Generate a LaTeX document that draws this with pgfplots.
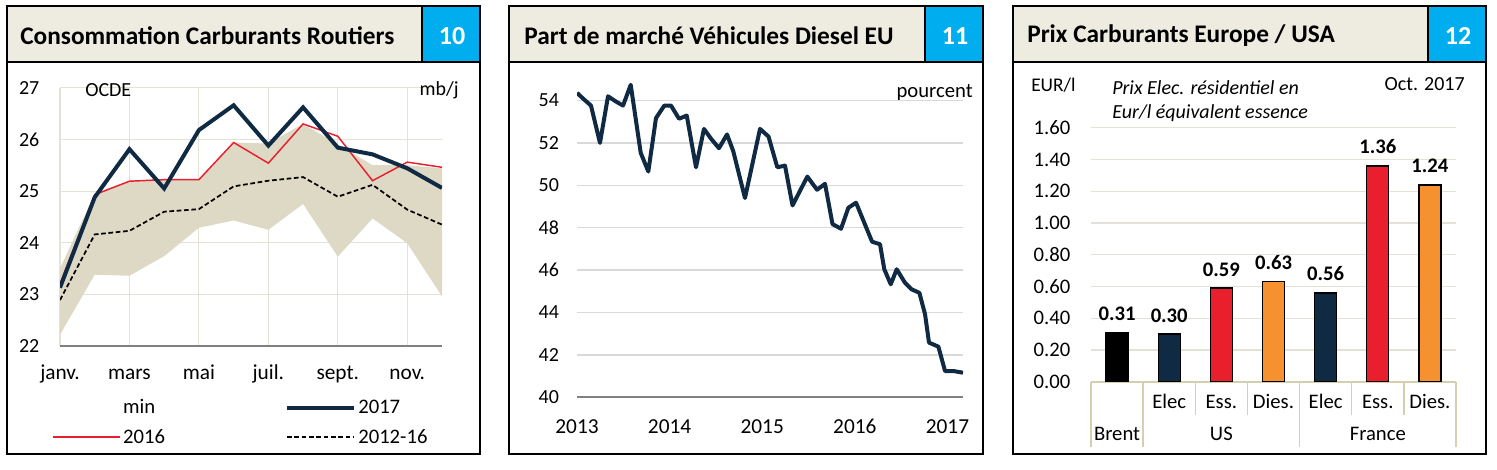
\documentclass[border=0pt]{standalone}
\usepackage{fontspec}
\setmainfont{Carlito}
\usepackage{pgfplots}
\pgfplotsset{compat=1.18}
\usepgfplotslibrary{fillbetween}
\definecolor{navy}{HTML}{102A43}
\definecolor{cred}{HTML}{EA1F2E}
\definecolor{corange}{HTML}{F5912F}
\definecolor{band}{HTML}{DDD9C4}
\definecolor{titlebg}{HTML}{EEECE1}
\definecolor{cblue}{HTML}{00AEEF}
\definecolor{gridA}{HTML}{E4E1D6}
\definecolor{gridB}{HTML}{D9D9D9}
\definecolor{sepc}{HTML}{D5CFB0}
\newcommand{\fs}[1]{\fontsize{#1}{#1}\selectfont}
\begin{document}
\begin{tikzpicture}
% ---------- frames ----------
\begin{scope}[x=0.75pt,y=-0.75pt]
\fill[titlebg] (7,6) rectangle (422,62);
\fill[cblue] (422,6) rectangle (480,62);
\draw[line width=1.5pt] (7,6) rectangle (480,454);
\draw[line width=1.5pt] (7,62) -- (480,62);
\draw[line width=1.2pt] (422,6) -- (422,62);
\node[anchor=west, font=\fs{19pt}\bfseries, inner sep=0pt] at (20,36) {Consommation Carburants Routiers};
\node[font=\fs{19.5pt}\bfseries, text=white, inner sep=0pt] at (452,36) {10};

\fill[titlebg] (509,6) rectangle (925,62);
\fill[cblue] (925,6) rectangle (983,62);
\draw[line width=1.5pt] (509,6) rectangle (983,454);
\draw[line width=1.5pt] (509,62) -- (983,62);
\draw[line width=1.2pt] (925,6) -- (925,62);
\node[anchor=west, font=\fs{19pt}\bfseries, inner sep=0pt] at (524,36) {Part de marché Véhicules Diesel EU};
\node[font=\fs{19.5pt}\bfseries, text=white, inner sep=0pt] at (955,36) {11};

\fill[titlebg] (1013,6) rectangle (1428,62);
\fill[cblue] (1428,6) rectangle (1486,62);
\draw[line width=1.5pt] (1013,6) rectangle (1486,454);
\draw[line width=1.5pt] (1013,62) -- (1486,62);
\draw[line width=1.2pt] (1428,6) -- (1428,62);
\node[anchor=west, font=\fs{19pt}\bfseries, inner sep=0pt] at (1027,36) {Prix Carburants Europe / USA};
\node[font=\fs{19.5pt}\bfseries, text=white, inner sep=0pt] at (1458,36) {12};

% annotations
\node[anchor=west, font=\fs{15pt}, inner sep=0pt] at (85,90) {OCDE};
\node[anchor=east, font=\fs{15pt}, inner sep=0pt] at (459,90) {mb/j};
\node[anchor=east, font=\fs{15.5pt}, inner sep=0pt] at (973,93) {pourcent};
\node[anchor=west, font=\fs{14.5pt}, inner sep=0pt] at (1031,85) {EUR/l};
\node[anchor=west, font=\fs{15pt}\itshape, inner sep=0pt] at (1112,88) {Prix Elec. résidentiel en};
\node[anchor=west, font=\fs{15pt}\itshape, inner sep=0pt] at (1112,113) {Eur/l équivalent essence};
\node[anchor=east, font=\fs{15pt}, inner sep=0pt] at (1465,84) {Oct. 2017};
\end{scope}

% ---------- panel 1 ----------
\begin{axis}[at={(45pt,-259.5pt)}, anchor=south west, scale only axis,
  width=286.5pt, height=193.7pt,
  xmin=0, xmax=11, ymin=22, ymax=27,
  xtick={0,2,4,6,8,10}, xticklabels={janv.,mars,mai,juil.,sept.,nov.},
  ytick={22,23,24,25,26,27},
  xmajorgrids, ymajorgrids, grid style={gridA, line width=0.8pt},
  major tick length=0pt,
  axis x line*=bottom, axis y line*=left,
  x axis line style={-, draw=gray, line width=1.5pt},
  y axis line style={draw=none},
  /pgf/number format/assume math mode=true,
  yticklabel style={font=\fs{15pt}, xshift=-12pt},
  xticklabel style={font=\fs{16pt}, anchor=base, yshift=-25.5pt},
  legend columns=2,
  legend style={draw=none, fill=none, font=\fs{15.5pt},
    at={(axis cs:0,22)}, anchor=north west, xshift=-9pt, yshift=-36pt,
    /tikz/every even column/.append style={column sep=88pt}, row sep=6pt},
  legend image code/.code={\draw[#1] (0pt,0pt) -- (50pt,0pt);},
  legend cell align=left,
]
\addplot[name path=up, draw=none, forget plot] coordinates {
(0,23.5)(1,24.95)(2,25.2)(3,25.23)(4,25.23)(5,25.94)(6,25.92)(7,26.3)(8,25.9)(9,25.5)(10,25.5)(11,25.44)};
\addplot[name path=lo, draw=none, forget plot] coordinates {
(0,22.22)(1,23.38)(2,23.36)(3,23.74)(4,24.29)(5,24.43)(6,24.25)(7,24.75)(8,23.73)(9,24.47)(10,23.99)(11,22.96)};
\addplot[band, forget plot] fill between[of=up and lo];
\addplot[black, line width=1.3pt, dash pattern=on 3.5pt off 2pt, forget plot] coordinates {
(0,22.89)(1,24.16)(2,24.23)(3,24.6)(4,24.65)(5,25.09)(6,25.2)(7,25.27)(8,24.89)(9,25.12)(10,24.64)(11,24.35)};
\addplot[cred, line width=1.1pt, forget plot] coordinates {
(0,23.2)(1,24.93)(2,25.19)(3,25.22)(4,25.22)(5,25.94)(6,25.54)(7,26.3)(8,26.06)(9,25.2)(10,25.56)(11,25.46)};
\addplot[navy, line width=3pt, forget plot] coordinates {
(0,23.13)(1,24.88)(2,25.81)(3,25.05)(4,26.18)(5,26.66)(6,25.88)(7,26.62)(8,25.84)(9,25.71)(10,25.44)(11,25.06)};
\addlegendimage{draw=white, line width=1pt}\addlegendentry{min}
\addlegendimage{navy, line width=3pt}\addlegendentry{2017}
\addlegendimage{cred, line width=1.1pt}\addlegendentry{2016}
\addlegendimage{black, line width=1.3pt, dash pattern=on 3.5pt off 2pt}\addlegendentry{2012-16}
\end{axis}

% ---------- panel 2 ----------
\begin{axis}[at={(432.75pt,-297.98pt)}, anchor=south west, scale only axis,
  width=289.5pt, height=238.5pt,
  xmin=2013, xmax=2017.168, ymin=40, ymax=55,
  xtick={2013,2014,2015,2016,2017}, ytick={40,42,44,46,48,50,52,54},
  ymajorgrids, grid style={gridB, line width=1pt},
  major tick length=0pt,
  axis x line*=bottom, axis y line*=left,
  x axis line style={-, draw=gray, line width=1.5pt},
  y axis line style={draw=none},
  /pgf/number format/assume math mode=true,
  xticklabel style={font=\fs{16pt}, /pgf/number format/1000 sep={}, anchor=base, yshift=-27pt},
  yticklabel style={font=\fs{15pt}, xshift=-10pt},
]
\addplot[navy, line width=3pt, line join=round] coordinates {
(2013.000,54.36)(2013.076,54.05)(2013.151,53.76)(2013.248,52.0)(2013.335,54.2)
(2013.421,53.95)(2013.497,53.76)(2013.580,54.74)(2013.688,51.53)(2013.770,50.65)
(2013.853,53.17)(2013.943,53.76)(2014.015,53.76)(2014.102,53.14)(2014.185,53.29)
(2014.285,50.85)(2014.371,52.66)(2014.447,52.2)(2014.533,51.75)(2014.620,52.4)
(2014.688,51.6)(2014.814,49.4)(2014.976,52.66)(2015.068,52.3)(2015.163,50.85)
(2015.246,50.93)(2015.327,49.05)(2015.487,50.41)(2015.592,49.79)(2015.678,50.07)
(2015.759,48.17)(2015.851,47.95)(2015.930,48.94)(2016.013,49.18)(2016.186,47.34)
(2016.272,47.22)(2016.318,46.04)(2016.388,45.33)(2016.452,46.04)(2016.542,45.4)
(2016.614,45.09)(2016.697,44.93)(2016.758,43.92)(2016.801,42.58)(2016.902,42.39)
(2016.974,41.24)(2017.064,41.24)(2017.168,41.16)};
\end{axis}

% ---------- panel 3 ----------
\begin{axis}[at={(818.25pt,-286.3pt)}, anchor=south west, scale only axis,
  width=273.75pt, height=190.5pt,
  xmin=-0.5, xmax=6.5, ymin=0, ymax=1.6,
  ytick={0,0.2,0.4,0.6,0.8,1.0,1.2,1.4,1.6},
  xtick=\empty,
  ymajorgrids, grid style={gridA, line width=1pt},
  major tick length=0pt,
  axis x line*=bottom, axis y line*=left,
  x axis line style={-, draw=sepc, line width=1.5pt},
  y axis line style={draw=none},
  /pgf/number format/assume math mode=true,
  yticklabel style={font=\fs{15.5pt}, xshift=-12pt, /pgf/number format/.cd, fixed, fixed zerofill, precision=2},
  ybar, bar width=16.5pt, bar shift=0pt,
  clip=false,
  nodes near coords={\pgfmathprintnumber[fixed,fixed zerofill,precision=2]{\pgfplotspointmeta}},
  every node near coord/.append style={font=\fs{15.5pt}\bfseries, yshift=5pt},
]
\addplot[fill=black, draw=black, line width=1pt] coordinates {(0,0.31)};
\addplot[fill=navy, draw=black, line width=1pt] coordinates {(1,0.30)};
\addplot[fill=cred, draw=black, line width=1pt] coordinates {(2,0.59)};
\addplot[fill=corange, draw=black, line width=1pt] coordinates {(3,0.63)};
\addplot[fill=navy, draw=black, line width=1pt] coordinates {(4,0.56)};
\addplot[fill=cred, draw=black, line width=1pt] coordinates {(5,1.36)};
\addplot[fill=corange, draw=black, line width=1pt] coordinates {(6,1.24)};
\draw[sepc, line width=1pt] (axis cs:-0.5,0) -- ++(0pt,-48.75pt);
\draw[sepc, line width=1pt] (axis cs:0.5,0) -- ++(0pt,-48.75pt);
\draw[sepc, line width=1pt] (axis cs:3.5,0) -- ++(0pt,-48.75pt);
\draw[sepc, line width=1pt] (axis cs:6.5,0) -- ++(0pt,-48.75pt);
\draw[sepc, line width=1pt] (axis cs:1.5,0) -- ++(0pt,-25pt);
\draw[sepc, line width=1pt] (axis cs:2.5,0) -- ++(0pt,-25pt);
\draw[sepc, line width=1pt] (axis cs:4.5,0) -- ++(0pt,-25pt);
\draw[sepc, line width=1pt] (axis cs:5.5,0) -- ++(0pt,-25pt);
\node[font=\fs{15.5pt}] at (axis cs:1,0) [yshift=-15pt] {Elec};
\node[font=\fs{15.5pt}] at (axis cs:2,0) [yshift=-15pt] {Ess.};
\node[font=\fs{15.5pt}] at (axis cs:3,0) [yshift=-15pt] {Dies.};
\node[font=\fs{15.5pt}] at (axis cs:4,0) [yshift=-15pt] {Elec};
\node[font=\fs{15.5pt}] at (axis cs:5,0) [yshift=-15pt] {Ess.};
\node[font=\fs{15.5pt}] at (axis cs:6,0) [yshift=-15pt] {Dies.};
\node[font=\fs{15.5pt}] at (axis cs:0,0) [yshift=-39pt] {Brent};
\node[font=\fs{15.5pt}] at (axis cs:2,0) [yshift=-39pt] {US};
\node[font=\fs{15.5pt}] at (axis cs:5,0) [yshift=-39pt] {France};
\end{axis}
\pgfresetboundingbox
\path[x=0.75pt,y=-0.75pt] (0,0) rectangle (1497,470);
\end{tikzpicture}
\end{document}
